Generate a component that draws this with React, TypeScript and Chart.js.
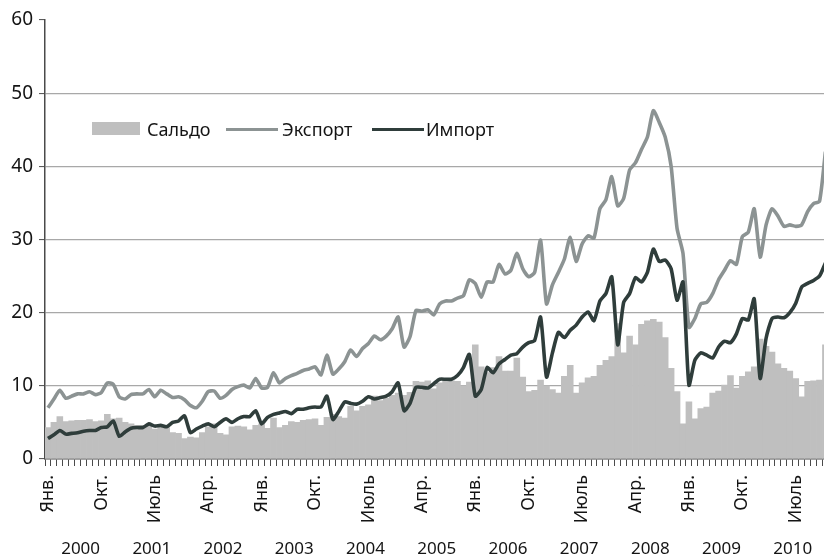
import React, { useEffect, useRef } from 'react';
import { Chart, registerables } from 'chart.js';

Chart.register(...registerables);

const years = [2000, 2001, 2002, 2003, 2004, 2005, 2006, 2007, 2008, 2009, 2010];
const monthNames = ['Янв.', 'Фев.', 'Март', 'Апр.', 'Май', 'Июнь', 'Июль', 'Авг.', 'Сент.', 'Окт.', 'Нояб.', 'Дек.'];
const categories = years.flatMap((y) => monthNames.map((m) => `${m} ${y}`));
const labelStep = 9;

const seriesNames = ['Сальдо', 'Экспорт', 'Импорт'];

const exportValues = [
  7.0, 8.2, 9.4, 8.3, 8.6, 8.9, 8.9, 9.2, 8.8, 9.1, 10.4, 10.2,
  8.5, 8.2, 8.8, 8.9, 8.9, 9.5, 8.5, 9.4, 8.9, 8.4, 8.5, 8.1,
  7.3, 7.0, 7.9, 9.2, 9.3, 8.3, 8.7, 9.5, 9.9, 10.1, 9.7, 11.0,
  9.7, 9.8, 11.8, 10.4, 11.0, 11.4, 11.7, 12.1, 12.3, 12.6, 11.5, 14.2,
  11.6, 12.3, 13.3, 14.9, 14.0, 15.1, 15.8, 16.8, 16.3, 16.8, 17.8, 19.4,
  15.3, 16.7, 20.3, 20.2, 20.4, 19.7, 21.2, 21.6, 21.6, 22.0, 22.3, 24.5,
  24.0, 22.1, 24.2, 24.2, 26.6, 25.3, 25.8, 28.1, 26.0, 24.9, 25.5, 29.9,
  21.2, 23.8, 25.5, 27.3, 30.3, 27.0, 29.4, 30.5, 30.2, 34.2, 35.4, 38.6,
  34.6, 35.6, 39.5, 40.5, 42.3, 44.0, 47.6, 46.0, 44.0, 40.0, 31.5, 28.1,
  18.0, 19.2, 21.2, 21.4, 22.6, 24.5, 25.8, 27.1, 26.6, 30.4, 31.0, 34.2,
  27.6, 32.0, 34.2, 33.2, 31.8, 32.0, 31.8, 32.0, 33.8, 34.9, 35.2, 42.0,
];

const importValues = [
  2.8, 3.3, 3.9, 3.4, 3.5, 3.6, 3.8, 3.9, 3.9, 4.3, 4.4, 5.2,
  3.1, 3.7, 4.2, 4.3, 4.3, 4.8, 4.5, 4.6, 4.4, 5.0, 5.2, 5.9,
  3.6, 4.1, 4.5, 4.8, 4.4, 5.0, 5.5, 5.0, 5.5, 5.8, 5.8, 6.6,
  4.8, 5.7, 6.1, 6.3, 6.5, 6.2, 6.8, 6.8, 7.0, 7.1, 7.1, 8.6,
  5.4, 6.5, 7.8, 7.6, 7.5, 7.9, 8.5, 8.2, 8.4, 8.6, 9.2, 10.4,
  6.6, 7.6, 9.8, 9.8, 9.7, 10.3, 10.9, 10.9, 10.9, 11.4, 12.5, 14.3,
  8.6, 9.5, 12.5, 11.8, 13.0, 13.6, 14.2, 14.4, 15.3, 15.9, 16.2, 19.4,
  11.2, 14.5, 17.3, 16.6, 17.6, 18.3, 19.4, 20.1, 18.9, 21.6, 22.6, 24.9,
  15.6, 21.4, 22.6, 24.8, 24.2, 25.5, 28.7, 27.0, 27.2, 26.0, 21.7, 24.2,
  10.1, 13.5, 14.5, 14.2, 13.8, 15.3, 16.1, 15.9, 17.1, 19.2, 19.0, 21.9,
  11.0, 16.5, 19.2, 19.4, 19.3, 20.0, 21.3, 23.5, 24.0, 24.4, 25.0, 26.8,
];

const saldoValues = [
  4.3, 5.0, 5.8, 5.1, 5.2, 5.3, 5.3, 5.4, 5.1, 5.2, 6.1, 5.5,
  5.6, 5.0, 4.8, 4.6, 4.6, 4.7, 4.1, 4.6, 4.3, 3.6, 3.5, 2.8,
  3.0, 2.9, 3.6, 4.4, 4.8, 3.5, 3.3, 4.4, 4.5, 4.4, 4.0, 4.6,
  4.8, 4.2, 5.6, 4.3, 4.6, 5.1, 5.0, 5.3, 5.4, 5.5, 4.6, 5.7,
  6.1, 5.8, 5.6, 7.2, 6.6, 7.2, 7.4, 8.6, 8.0, 8.3, 8.7, 9.0,
  8.7, 9.1, 10.6, 10.5, 10.7, 9.6, 10.4, 10.7, 10.7, 10.6, 10.0, 10.5,
  15.6, 12.6, 11.8, 12.5, 14.0, 12.0, 12.0, 13.8, 11.2, 9.2, 9.4, 10.8,
  10.0, 9.5, 9.0, 11.3, 12.8, 9.0, 10.4, 11.1, 11.3, 12.8, 13.5, 14.0,
  18.5, 14.5, 16.8, 15.6, 18.4, 18.9, 19.1, 18.7, 16.6, 12.4, 9.2, 4.8,
  7.8, 5.5, 6.9, 7.1, 9.0, 9.3, 10.1, 11.4, 9.7, 11.3, 11.9, 12.6,
  16.4, 15.4, 14.6, 13.0, 12.4, 12.0, 11.0, 8.5, 10.6, 10.7, 10.8, 15.6,
];

const yTicks = [0, 10, 20, 30, 40, 50, 60];

const SALDO_COLOR = '#bfbfbf';
const EXPORT_COLOR = '#8c9393';
const IMPORT_COLOR = '#2f3d3b';
const AXIS_COLOR = '#4a4a4a';
const GRID_COLOR = '#a8a8a8';
const TEXT_COLOR = '#141414';
const FONT = "'Noto Sans', 'DejaVu Sans', sans-serif";

const noSidePadding = (scale: any) => {
  scale.paddingLeft = 0;
  scale.paddingRight = 0;
};

export default function App() {
  const canvasRef = useRef<HTMLCanvasElement | null>(null);

  useEffect(() => {
    const canvas = canvasRef.current;
    if (!canvas) return;
    const chart = new Chart(canvas, {
      type: 'bar',
      data: {
        labels: categories,
        datasets: [
          {
            type: 'line',
            label: seriesNames[2],
            data: importValues,
            borderColor: IMPORT_COLOR,
            borderWidth: 3.6,
            pointRadius: 0,
            tension: 0.2,
            borderJoinStyle: 'round',
            order: 1,
          },
          {
            type: 'line',
            label: seriesNames[1],
            data: exportValues,
            borderColor: EXPORT_COLOR,
            borderWidth: 3.6,
            pointRadius: 0,
            tension: 0.2,
            borderJoinStyle: 'round',
            order: 2,
          },
          {
            type: 'bar',
            label: seriesNames[0],
            data: saldoValues,
            backgroundColor: SALDO_COLOR,
            borderWidth: 0,
            barPercentage: 1,
            categoryPercentage: 1,
            order: 3,
          },
        ],
      },
      options: {
        responsive: false,
        animation: false,
        devicePixelRatio: 1,
        layout: { padding: { top: 20, left: 0, right: 1.6, bottom: 0 } },
        plugins: {
          legend: { display: false },
          tooltip: { enabled: false },
        },
        scales: {
          x: {
            type: 'category',
            position: 'bottom',
            offset: true,
            weight: 0,
            grid: {
              offset: true,
              drawOnChartArea: false,
              drawTicks: true,
              tickLength: 7,
              tickColor: AXIS_COLOR,
              tickWidth: 1,
            },
            border: { display: true, color: AXIS_COLOR, width: 1.5 },
            ticks: {
              autoSkip: false,
              maxRotation: 90,
              minRotation: 90,
              padding: 9,
              color: TEXT_COLOR,
              font: { family: FONT, size: 18 },
              callback: (_v: any, index: number) => (index % labelStep === 0 ? monthNames[index % 12] : ''),
            },
            afterFit: (scale: any) => {
              scale.height = 77;
              noSidePadding(scale);
            },
          },
          years: {
            type: 'linear',
            position: 'bottom',
            weight: 1,
            offset: false,
            bounds: 'data',
            min: -0.5,
            max: categories.length - 0.5,
            grid: { display: false, drawTicks: false, offset: false },
            border: { display: false },
            afterBuildTicks: (scale: any) => {
              scale.ticks = years.map((_y, i) => ({ value: i * 12 + 5.5 }));
            },
            ticks: {
              autoSkip: false,
              maxRotation: 0,
              minRotation: 0,
              padding: 3,
              color: TEXT_COLOR,
              font: { family: FONT, size: 17 },
              callback: (v: any) => String(years[Math.round((Number(v) - 5.5) / 12)]),
            },
            afterFit: (scale: any) => {
              scale.height = 23;
              noSidePadding(scale);
            },
          },
          y: {
            type: 'linear',
            min: 0,
            max: 60,
            afterBuildTicks: (scale: any) => {
              scale.ticks = yTicks.map((v) => ({ value: v }));
            },
            grid: {
              color: (ctx: any) => (ctx.tick && (ctx.tick.value === 0 || ctx.tick.value === 60) ? 'rgba(0,0,0,0)' : GRID_COLOR),
              lineWidth: 1.2,
              drawTicks: true,
              tickLength: 6,
              tickColor: AXIS_COLOR,
              tickWidth: 1,
            },
            border: { display: true, color: AXIS_COLOR, width: 1.5 },
            ticks: {
              padding: 6,
              color: TEXT_COLOR,
              font: { family: FONT, size: 19 },
            },
            afterFit: (scale: any) => {
              scale.width = 45;
            },
          },
        },
      },
    } as any);
    return () => chart.destroy();
  }, []);

  const legendText: React.CSSProperties = {
    position: 'absolute',
    top: 118,
    height: 22,
    lineHeight: '22px',
    fontFamily: FONT,
    fontSize: 18,
    color: TEXT_COLOR,
    whiteSpace: 'nowrap',
  };

  return (
    <div
      style={{
        position: 'fixed',
        left: 0,
        top: 0,
        width: 824,
        height: 559,
        overflow: 'hidden',
        background: '#ffffff',
      }}
    >
      <canvas ref={canvasRef} width={830} height={559} style={{ display: 'block', width: 830, height: 559 }} />
      <div style={{ position: 'absolute', left: 92, top: 122, width: 48, height: 13, background: SALDO_COLOR }} />
      <div style={{ ...legendText, left: 147 }}>{seriesNames[0]}</div>
      <div style={{ position: 'absolute', left: 226, top: 128, width: 52, height: 3, background: EXPORT_COLOR }} />
      <div style={{ ...legendText, left: 282 }}>{seriesNames[1]}</div>
      <div style={{ position: 'absolute', left: 372, top: 128, width: 52, height: 3, background: IMPORT_COLOR }} />
      <div style={{ ...legendText, left: 426 }}>{seriesNames[2]}</div>
    </div>
  );
}
